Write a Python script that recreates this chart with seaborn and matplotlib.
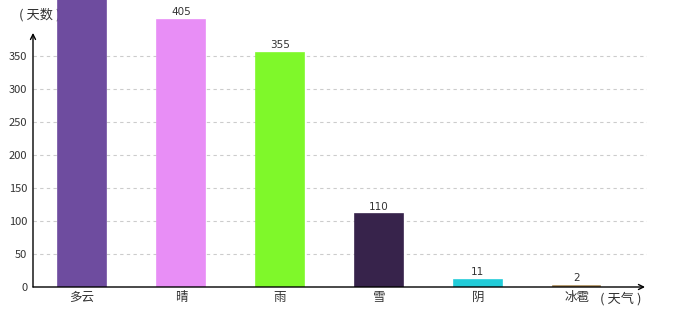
import matplotlib
matplotlib.use("Agg")
import matplotlib.pyplot as plt
import seaborn as sns
import pandas as pd

categories = ["多云", "晴", "雨", "雪", "阴", "冰雹"]
days = [480, 405, 355, 110, 11, 2]
colors = ["#6E4C9F", "#E88EF6", "#7FF82A", "#37234B", "#22CCD9", "#A98A57"]
yticks = [0, 50, 100, 150, 200, 250, 300, 350]

sns.set_theme(style="white")
plt.rcParams["font.family"] = ["Noto Sans CJK SC", "DejaVu Sans"]

df = pd.DataFrame({"weather": categories, "days": days})

fig = plt.figure(figsize=(6.8, 3.2), dpi=100)
ax = fig.add_axes([33 / 680, 33 / 320, 614 / 680, 287 / 320])

sns.barplot(data=df, x="weather", y="days", hue="weather", palette=colors,
            width=0.48, legend=False, ax=ax, saturation=1, zorder=2)
for p, c in zip(ax.patches, colors):
    p.set_edgecolor(c)
    p.set_linewidth(1.2)

x_left, x_right = -0.495, 5.69
ax.set_xlim(x_left, x_right + 0.02)
ymax = 287 / 0.66
ax.set_ylim(0, ymax)

for s in ax.spines.values():
    s.set_visible(False)

ax.set_yticks(yticks)
ax.set_yticklabels([str(v) for v in yticks], fontsize=8, color="#333333")
ax.tick_params(axis="both", length=0, pad=4)
ax.tick_params(axis="x", labelsize=9, labelcolor="#333333", pad=3)
ax.set_xlabel("")
ax.set_ylabel("")
ax.yaxis.grid(True, color="#cccccc", linestyle=(0, (3, 3)), linewidth=0.8, zorder=0)
ax.set_axisbelow(True)

# axes arrows
ax.annotate("", xy=(x_right, 0), xytext=(x_left, 0),
            arrowprops=dict(arrowstyle="->", lw=1.0, color="black", mutation_scale=9,
                            shrinkA=0, shrinkB=0), annotation_clip=False, zorder=3)
ax.annotate("", xy=(x_left, 385), xytext=(x_left, 0),
            arrowprops=dict(arrowstyle="->", lw=1.0, color="black", mutation_scale=9,
                            shrinkA=0, shrinkB=0), annotation_clip=False, zorder=3)

# value labels (only those that fall inside the visible area)
for i, v in enumerate(days):
    if v + 25 < ymax:
        ax.text(i, v + 4, str(v), ha="center", va="bottom", fontsize=7.5,
                color="#333333", family="DejaVu Sans", zorder=3)

# axis titles
ax.text(19 / 680, 1 - 15 / 320, "( 天数 )", transform=fig.transFigure, ha="left",
        va="center", fontsize=9.5, color="#333333", zorder=1)
ax.text(600 / 680, 1 - 299 / 320, "( 天气 )", transform=fig.transFigure, ha="left",
        va="center", fontsize=9.5, color="#333333", zorder=1)

fig.savefig("out.png", dpi=100)
